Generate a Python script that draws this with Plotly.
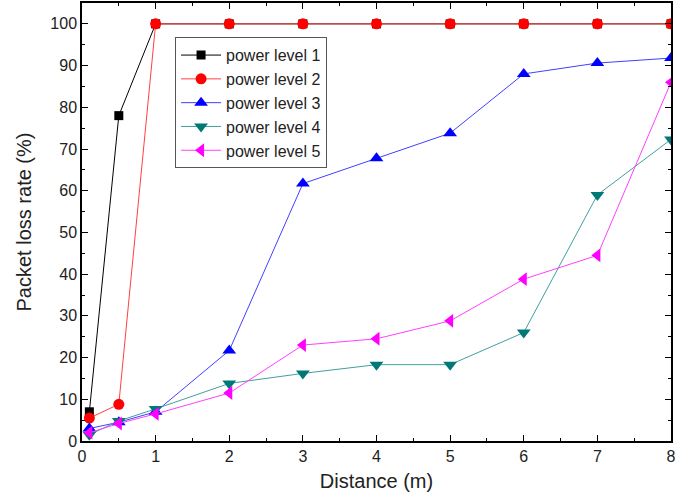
import plotly.graph_objects as go

distance = [0.1, 0.5, 1, 2, 3, 4, 5, 6, 7, 8]
pl1 = [7, 78, 100, 100, 100, 100, 100, 100, 100, 100]
pl2 = [5.5, 8.8, 100, 100, 100, 100, 100, 100, 100, 100]
pl3 = [3, 4.5, 7, 21.7, 61.7, 67.8, 73.8, 88, 90.6, 91.8]
pl4 = [1.5, 4.8, 7.7, 13.8, 16.2, 18.3, 18.3, 26, 59, 72.3]
pl5 = [2, 4.2, 6.5, 11.5, 23, 24.5, 28.8, 38.8, 44.5, 86]

series = [
    ("power level 1", pl1, "black", "black", "square", 9),
    ("power level 2", pl2, "#ff4040", "red", "circle", 11),
    ("power level 3", pl3, "#4040ff", "blue", "triangle-up", 12),
    ("power level 4", pl4, "#40a0a0", "#007878", "triangle-down", 12),
    ("power level 5", pl5, "#ff40ff", "#ff00ff", "triangle-left", 12),
]

fig = go.Figure()
for name, vals, lc, mc, sym, sz in series:
    fig.add_trace(go.Scatter(
        x=distance, y=vals, name=name, mode="lines+markers",
        line=dict(color=lc, width=1),
        marker=dict(color=mc, symbol=sym, size=sz, line=dict(width=0)),
    ))

FONT = "Liberation Sans, Arial, sans-serif"
axis_common = dict(
    showgrid=False, zeroline=False, showline=True, linecolor="black", linewidth=1.5,
    mirror="allticks", ticks="inside", ticklen=6, tickwidth=1.2, tickcolor="black",
    tickfont=dict(family=FONT, size=16, color="#222"), automargin=False,
)

fig.update_layout(
    width=700, height=497,
    margin=dict(l=82, r=29, t=3, b=56),
    plot_bgcolor="white", paper_bgcolor="white",
    font=dict(family=FONT, color="#222"),
    xaxis=dict(range=[0, 8], dtick=1,
               minor=dict(dtick=0.5, ticks="inside", ticklen=3, tickcolor="black"),
               title=dict(text="Distance (m)", font=dict(size=20), standoff=10),
               **axis_common),
    yaxis=dict(range=[0, 105], dtick=10,
               minor=dict(dtick=5, ticks="inside", ticklen=3, tickcolor="black"),
               title=dict(text="Packet loss rate (%)", font=dict(size=20), standoff=13),
               **axis_common),
    legend=dict(x=0.158, y=0.922, xanchor="left", yanchor="top",
                bgcolor="white", bordercolor="#555", borderwidth=1,
                font=dict(size=16, family=FONT, color="#222"),
                tracegroupgap=0, itemwidth=40),
    showlegend=True,
)

fig.write_html("out.html", config={"displayModeBar": False},
               post_script="document.body.style.margin='0px';")
